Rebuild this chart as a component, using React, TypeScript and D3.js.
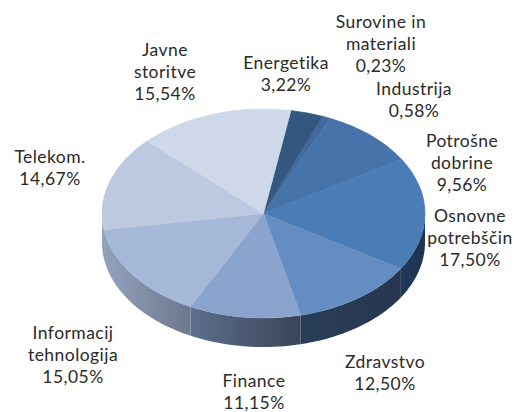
import React from "react";
import * as d3 from "d3";

const categories = ["Energetika", "Surovine in materiali", "Industrija", "Potrošne dobrine", "Osnovne potrebščin", "Zdravstvo", "Finance", "Informacij tehnologija", "Telekom.", "Javne storitve"];
const values = [3.22, 0.23, 0.58, 9.56, 17.5, 12.5, 11.15, 15.05, 14.67, 15.54];
const topColors = ["#34577f", "#3d6392", "#41699c", "#4673a9", "#4a7cb6", "#668dc1", "#8ba4ce", "#a6b8d7", "#bcc9e1", "#cfd8e9"];
const sideLeft = ["#222", "#222", "#222", "#222", "#20395a", "#2a3d58", "#5c6f8e", "#93a2bb", "#a5b2c8", "#aaa"];
const sideRight = ["#222", "#222", "#222", "#222", "#1e3350", "#263650", "#3b4457", "#6c788e", "#8494ad", "#aaa"];
const labelLines = [
  ["Energetika", "3,22%"],
  ["Surovine in", "materiali", "0,23%"],
  ["Industrija", "0,58%"],
  ["Potrošne", "dobrine", "9,56%"],
  ["Osnovne", "potrebščin", "17,50%"],
  ["Zdravstvo", "12,50%"],
  ["Finance", "11,15%"],
  ["Informacij", "tehnologija", "15,05%"],
  ["Telekom.", "14,67%"],
  ["Javne", "storitve", "15,54%"],
];
const labelX = [286, 381, 414, 462, 470, 385, 254, 73, 50, 165];
const labelY = [69, 28, 95, 147, 222, 368, 387, 339, 163, 56];

const W = 514, H = 412;
const cx = 263.5, cy = 213.5, rx = 161.5, ry = 104.5, depth = 29;
const startDeg = 9.8;

export default function App() {
  const pie = d3.pie<number>().sort(null)
    .startAngle((startDeg * Math.PI) / 180)
    .endAngle(((startDeg + 360) * Math.PI) / 180);
  const arcs = pie(values);
  const arcGen = d3.arc<d3.PieArcDatum<number>>().innerRadius(0).outerRadius(1);
  const px = (a: number) => cx + rx * Math.sin(a);
  const py = (a: number) => cy - ry * Math.cos(a);

  const sides = arcs.map((d, i) => {
    const a0 = Math.max(d.startAngle, Math.PI / 2);
    const a1 = Math.min(d.endAngle, (3 * Math.PI) / 2);
    if (a1 <= a0) return null;
    const angles = d3.range(0, 41).map((k) => a0 + ((a1 - a0) * k) / 40);
    const top = angles.map((a) => [px(a), py(a)] as [number, number]);
    const bottom = angles.slice().reverse().map((a) => [px(a), py(a) + depth] as [number, number]);
    const path = d3.line()([...top, ...bottom]) + "Z";
    return { i, path, x0: px(a1), x1: px(a0) };
  });

  return (
    <svg width={W} height={H} style={{ position: "absolute", left: 0, top: 0, background: "#fff" }}>
      <defs>
        {sides.map((s) =>
          s ? (
            <linearGradient key={s.i} id={`side${s.i}`} gradientUnits="userSpaceOnUse" x1={s.x0} x2={s.x1} y1={0} y2={0}>
              <stop offset="0" stopColor={sideLeft[s.i]} />
              <stop offset="1" stopColor={sideRight[s.i]} />
            </linearGradient>
          ) : null
        )}
      </defs>
      {sides.map((s) => (s ? <path key={s.i} d={s.path} fill={`url(#side${s.i})`} /> : null))}
      <g transform={`translate(${cx},${cy}) scale(${rx},${ry})`}>
        {arcs.map((d, i) => (
          <path key={i} d={arcGen(d) as string} fill={topColors[i]} stroke={topColors[i]} strokeWidth={0.6} vectorEffect="non-scaling-stroke" />
        ))}
      </g>
      <g fontFamily="Lato, 'Open Sans', sans-serif" fontSize={17.5} letterSpacing={0.45} fill="#2a2a2a" textAnchor="middle">
        {labelLines.map((lines, i) => (
          <text key={categories[i]} x={labelX[i]} y={labelY[i]}>
            {lines.map((l, j) => (
              <tspan key={j} x={labelX[i]} y={labelY[i] + j * 21.8}>{l}</tspan>
            ))}
          </text>
        ))}
      </g>
    </svg>
  );
}
